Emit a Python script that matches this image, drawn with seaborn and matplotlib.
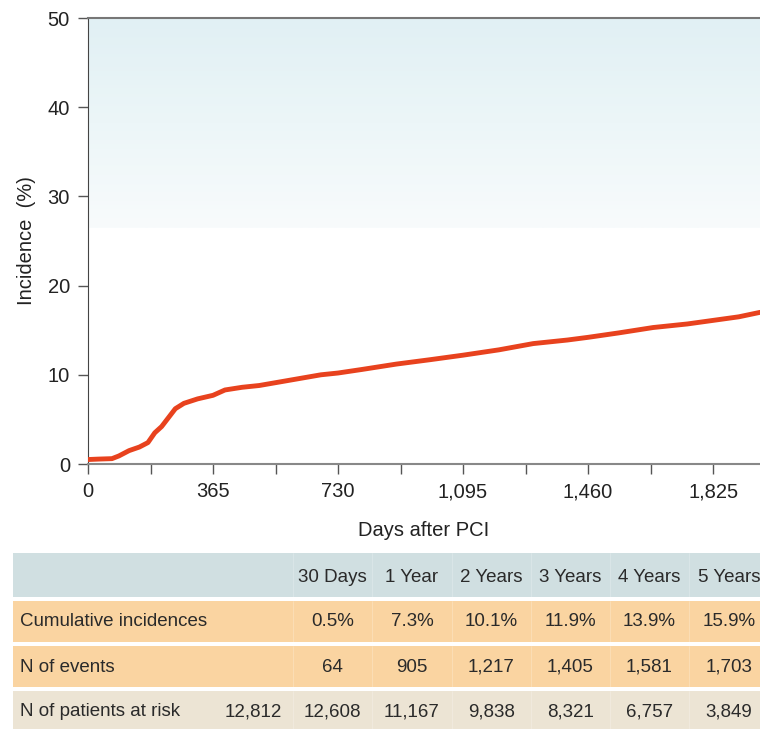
import matplotlib.pyplot as plt
import numpy as np
import seaborn as sns
import pandas as pd
from matplotlib.colors import LinearSegmentedColormap
from matplotlib.patches import Rectangle

# cumulative incidence curve (days, %)
days = [0, 30, 70, 90, 120, 150, 175, 195, 215, 235, 255, 280, 320, 365, 400,
        450, 500, 560, 620, 680, 730, 800, 900, 1000, 1095, 1200, 1300, 1400,
        1460, 1550, 1650, 1750, 1825, 1900, 1962]
incidence = [0.5, 0.55, 0.6, 0.9, 1.5, 1.9, 2.4, 3.5, 4.2, 5.2, 6.2, 6.8, 7.3,
             7.7, 8.3, 8.6, 8.8, 9.2, 9.6, 10.0, 10.2, 10.6, 11.2, 11.7, 12.2,
             12.8, 13.5, 13.9, 14.2, 14.7, 15.3, 15.7, 16.1, 16.5, 17.0]

x_ticks = [0, 365, 730, 1095, 1460, 1825]
x_ticklabels = ["0", "365", "730", "1,095", "1,460", "1,825"]
y_ticks = [0, 10, 20, 30, 40, 50]

# table under the chart
col_headers = ["", "30 Days", "1 Year", "2 Years", "3 Years", "4 Years", "5 Years"]
row_labels = ["Cumulative incidences", "N of events", "N of patients at risk"]
cum_inc = ["", "0.5%", "7.3%", "10.1%", "11.9%", "13.9%", "15.9%"]
n_events = ["", "64", "905", "1,217", "1,405", "1,581", "1,703"]
n_risk = ["12,812", "12,608", "11,167", "9,838", "8,321", "6,757", "3,849"]

sns.set_style("ticks")
plt.rcParams['font.family'] = ['Liberation Sans', 'DejaVu Sans']

fig = plt.figure(figsize=(7.6, 7.29), dpi=100)
ax = fig.add_axes([88 / 760, 1 - 464 / 729, 1 - 88 / 760, 446 / 729])

x_max = 1962
# faded blue band in the upper part of the plot
cmap = LinearSegmentedColormap.from_list("band", ["#f8fbfc", "#ecf6f8", "#e1f0f4"])
grad = np.linspace(0, 1, 100).reshape(-1, 1)
ax.imshow(grad, cmap=cmap, aspect="auto", extent=[0, x_max, 26.5, 50],
          origin="lower", zorder=0)

df = pd.DataFrame({"day": days, "inc": incidence})
sns.lineplot(data=df, x="day", y="inc", ax=ax, color="#e8421e", linewidth=3.5,
             zorder=3)

ax.set_xlim(0, x_max)
ax.set_ylim(0, 50)
ax.set_xticks(x_ticks)
ax.set_xticklabels(x_ticklabels)
ax.set_xticks(np.arange(182.5, x_max, 365), minor=True)
ax.set_yticks(y_ticks)
ax.tick_params(axis="both", which="both", length=7, width=1, color="#555555",
               labelsize=14.5, labelcolor="#222222", pad=6)
ax.set_xlabel("Days after PCI", fontsize=14.5, color="#222222", labelpad=14)
ax.set_ylabel("Incidence  (%)", fontsize=14.5, color="#222222", labelpad=8)

ax.spines["right"].set_visible(False)
ax.spines["left"].set_color("#444444")
ax.spines["bottom"].set_color("#888888")
ax.spines["bottom"].set_linewidth(1.5)
ax.spines["top"].set_color("#777777")
ax.spines["top"].set_linewidth(1.5)

# table drawn in pixel coordinates
tb = fig.add_axes([0, 0, 1, 1], zorder=-1)
tb.set_xlim(0, 760)
tb.set_ylim(729, 0)
tb.axis("off")

rows = [(553, 597, "#d0dfe1"), (601, 642, "#fad4a1"), (646, 687, "#fad4a1"),
        (691, 735, "#ece4d4")]
for top, bot, col in rows:
    tb.add_patch(Rectangle((13, top), 760, bot - top, facecolor=col,
                           edgecolor="none"))

col_edges = [213, 293, 372, 452, 531, 610, 689, 769]
for xe in col_edges[1:-1]:
    for top, bot, col in rows:
        tb.plot([xe, xe], [top, bot], color="white", lw=0.5, alpha=0.3)

centers = [(col_edges[i] + col_edges[i + 1]) / 2 for i in range(7)]
text_kw = dict(fontsize=13.5, color="#2a2a2a", va="center")

for cx, h in zip(centers, col_headers):
    tb.text(cx, 577, h, ha="center", **text_kw)

row_y = [622, 667, 712]
for y, label, vals in zip(row_y, row_labels, [cum_inc, n_events, n_risk]):
    tb.text(20, y, label, ha="left", **text_kw)
    for cx, v in zip(centers, vals):
        tb.text(cx, y, v, ha="center", **text_kw)

plt.savefig("out.png", dpi=100)
